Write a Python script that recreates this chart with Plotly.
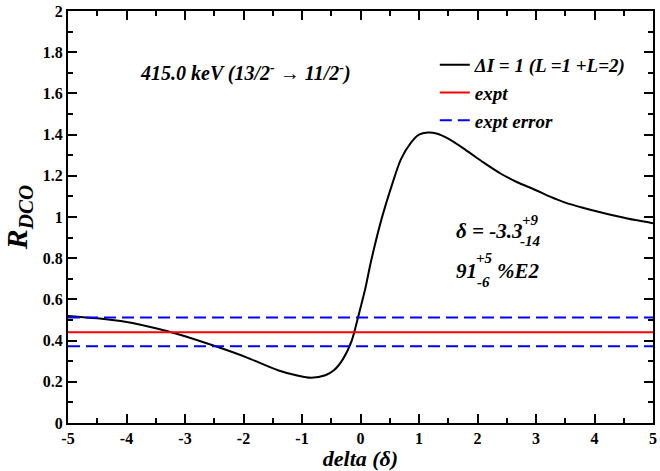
import plotly.graph_objects as go

# Data
delta = [-5.0, -4.5, -4.0, -3.5, -3.1, -2.45, -1.96, -1.4, -1.1, -0.84, -0.6, -0.45, -0.3, -0.15, -0.04, 0.08, 0.18, 0.35, 0.52, 0.69, 0.86, 1.0, 1.15, 1.3, 1.5, 1.8, 2.1, 2.4, 2.67, 3.0, 3.23, 3.5, 3.8, 4.1, 4.37, 4.7, 5.0]
rdco = [0.52, 0.508, 0.49, 0.46, 0.43, 0.37, 0.32, 0.255, 0.232, 0.22, 0.232, 0.257, 0.31, 0.40, 0.515, 0.65, 0.785, 0.98, 1.14, 1.28, 1.36, 1.40, 1.41, 1.405, 1.38, 1.325, 1.265, 1.21, 1.17, 1.13, 1.10, 1.07, 1.045, 1.023, 1.005, 0.985, 0.97]
x_ticks = [-5, -4, -3, -2, -1, 0, 1, 2, 3, 4, 5]
x_labels = ["-5", "-4", "-3", "-2", "-1", "0", "1", "2", "3", "4", "5"]
y_ticks = [0, 0.2, 0.4, 0.6, 0.8, 1, 1.2, 1.4, 1.6, 1.8, 2]
y_labels = ["0", "0.2", "0.4", "0.6", "0.8", "1", "1.2", "1.4", "1.6", "1.8", "2"]
x_range = [-5, 5]
expt = 0.44
expt_lo = 0.372
expt_hi = 0.512

FONT = "Liberation Serif"

fig = go.Figure()
fig.add_trace(go.Scatter(x=delta, y=rdco, mode="lines", line=dict(color="black", width=2, shape="spline", smoothing=0.8),
                         name="<b><i>ΔI = 1 (L =1 +L=2)</i></b>"))
fig.add_trace(go.Scatter(x=x_range, y=[expt, expt], mode="lines", line=dict(color="red", width=2),
                         name="<b><i>expt</i></b>"))
fig.add_trace(go.Scatter(x=x_range, y=[expt_lo, expt_lo], mode="lines", line=dict(color="blue", width=2, dash="12px,6px"),
                         name="<b><i>expt error</i></b>"))
fig.add_trace(go.Scatter(x=x_range, y=[expt_hi, expt_hi], mode="lines", line=dict(color="blue", width=2, dash="12px,6px"),
                         showlegend=False))

axis_common = dict(showline=True, linecolor="black", linewidth=2, mirror="ticks", ticks="inside",
                   tickcolor="black", tickwidth=2, ticklen=9, showgrid=False, zeroline=False,
                   ticklabeloverflow="allow",
                   tickfont=dict(family=FONT, size=16, color="black", weight="bold"))

fig.update_xaxes(range=[-5, 5], tickmode="array", tickvals=x_ticks, ticktext=x_labels,
                 minor=dict(ticks="inside", ticklen=5, tickwidth=2, tickcolor="black", dtick=0.5, tick0=-5),
                 title=dict(text="<b><i>delta (δ)</i></b>", font=dict(family=FONT, size=22, color="black"), standoff=0),
                 **axis_common)
fig.update_yaxes(range=[0, 2], tickmode="array", tickvals=y_ticks, ticktext=y_labels,
                 minor=dict(ticks="inside", ticklen=5, tickwidth=2, tickcolor="black", dtick=0.1, tick0=0),
                 title=dict(text="<b><i>R<sub>DCO</sub></i></b>", font=dict(family=FONT, size=30, color="black"), standoff=8),
                 **axis_common)

ann_font = dict(family=FONT, size=21, color="black")
title_font = dict(family=FONT, size=20, color="black")
small_font = dict(family=FONT, size=15, color="black")
anns = [
    dict(x=-1.96, y=1.70, text="<b><i>415.0 keV (13/2<sup>-</sup> → 11/2<sup>-</sup>)</i></b>", font=title_font, xanchor="center", yanchor="middle"),
    dict(x=1.605, y=0.93, text="<b><i>δ = -3.3</i></b>", font=ann_font, xanchor="left", yanchor="middle"),
    dict(x=2.72, y=0.985, text="<b><i>+9</i></b>", font=small_font, xanchor="left", yanchor="middle"),
    dict(x=2.70, y=0.885, text="<b><i>-14</i></b>", font=small_font, xanchor="left", yanchor="middle"),
    dict(x=1.605, y=0.737, text="<b><i>91</i></b>", font=ann_font, xanchor="left", yanchor="middle"),
    dict(x=1.944, y=0.80, text="<b><i>+5</i></b>", font=small_font, xanchor="left", yanchor="middle"),
    dict(x=1.96, y=0.685, text="<b><i>-6</i></b>", font=small_font, xanchor="left", yanchor="middle"),
    dict(x=2.30, y=0.737, text="<b><i>%E2</i></b>", font=ann_font, xanchor="left", yanchor="middle"),
]
for a in anns:
    a.update(xref="x", yref="y", showarrow=False)

fig.update_layout(
    width=660, height=471,
    margin=dict(l=68, r=3, t=8, b=48),
    paper_bgcolor="white", plot_bgcolor="white",
    font=dict(family=FONT, color="black"),
    annotations=anns,
    legend=dict(x=0.627, y=0.915, xanchor="left", yanchor="top", bgcolor="rgba(0,0,0,0)",
                font=dict(family=FONT, size=19, color="black"), tracegroupgap=0, itemwidth=30),
    showlegend=True,
)

fig.write_html("out.html")
